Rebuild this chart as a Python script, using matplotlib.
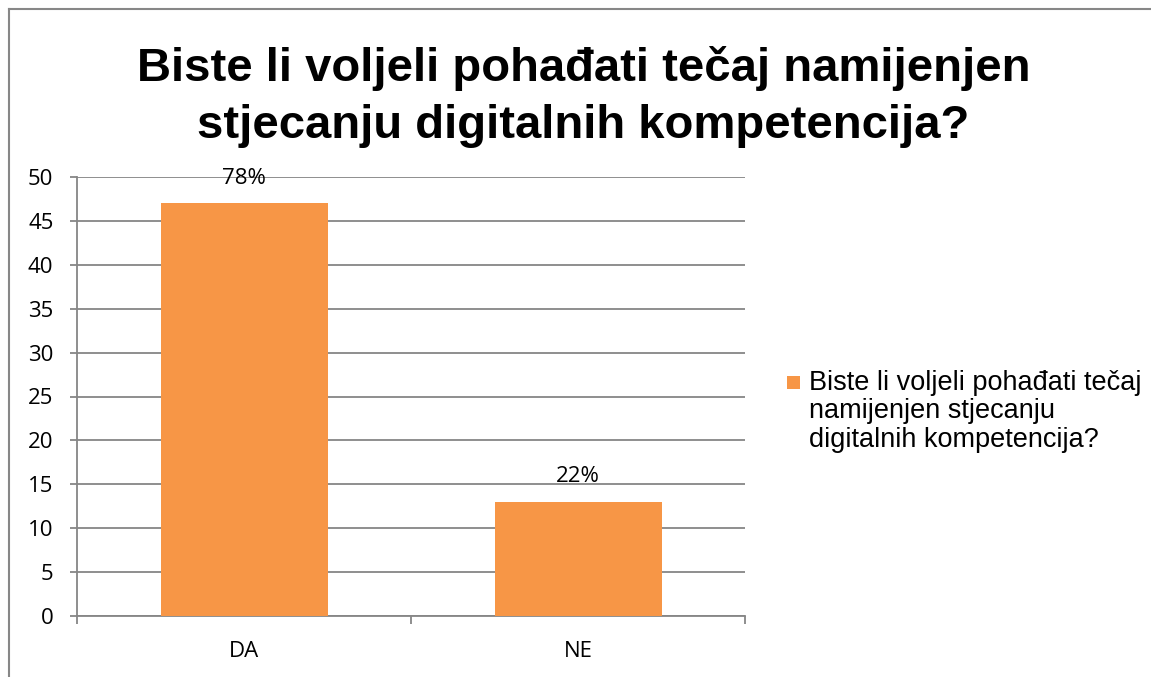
import matplotlib
matplotlib.use("Agg")
import matplotlib.pyplot as plt
from matplotlib.lines import Line2D
from matplotlib.patches import Rectangle

categories = ["DA", "NE"]
counts = [47, 13]
percent_labels = ["78%", "22%"]
series_name = "Biste li voljeli pohađati tečaj\nnamijenjen stjecanju\ndigitalnih kompetencija?"
title = "Biste li voljeli pohađati tečaj namijenjen\nstjecanju digitalnih kompetencija?"
yticks = [0, 5, 10, 15, 20, 25, 30, 35, 40, 45, 50]

bar_color = "#F79646"
grey = "#868686"

fig = plt.figure(figsize=(11.51, 6.77), dpi=100)
ax = fig.add_axes([77 / 1151, 61 / 677, 668 / 1151, 439 / 677])

x = list(range(len(categories)))
bars = ax.bar(x, counts, width=0.5, color=bar_color, zorder=3, label=series_name)

for b, lab in zip(bars, percent_labels):
    ax.annotate(lab, (b.get_x() + b.get_width() / 2, b.get_height()),
                xytext=(0, 18), textcoords="offset points",
                ha="center", va="center", fontsize=16, family="Open Sans")

ax.set_xlim(-0.5, 1.5)
ax.set_ylim(0, 50)
ax.set_yticks(yticks)
ax.set_xticks(x)
ax.set_xticklabels(categories, fontsize=16, family="Open Sans")
ax.set_xticks([-0.5, 0.5, 1.5], minor=True)
ax.tick_params(axis="x", which="major", length=0, pad=18)
ax.tick_params(axis="x", which="minor", length=6, color=grey, width=1.3)
ax.tick_params(axis="y", length=5, color=grey, width=1.3, pad=12)
for t in ax.get_yticklabels():
    t.set_fontsize(16)
    t.set_family("Open Sans")

ax.yaxis.grid(True, color=grey, linewidth=1.3, zorder=0)
for s in ["top", "right"]:
    ax.spines[s].set_visible(False)
for s in ["left", "bottom"]:
    ax.spines[s].set_color(grey)
    ax.spines[s].set_linewidth(1.3)

fig.text(0.507, 0.857, title, ha="center", va="center", fontsize=34,
         fontweight="bold", family="Liberation Sans", linespacing=1.38)

# legend: orange square aligned with the first line of the series name
fig.patches.append(Rectangle((787 / 1151, 1 - 389 / 677), 13 / 1151, 13 / 677,
                             transform=fig.transFigure, facecolor=bar_color, edgecolor="none"))
fig.text(809 / 1151, 1 - 370 / 677, series_name, ha="left", va="top", fontsize=19.5,
         family="Liberation Sans", linespacing=1.12)

# outer chart border
fig.add_artist(Line2D([9 / 1151, 1], [1 - 9 / 677, 1 - 9 / 677], transform=fig.transFigure,
                      color="#878787", linewidth=1.5))
fig.add_artist(Line2D([9 / 1151, 9 / 1151], [0, 1 - 9 / 677], transform=fig.transFigure,
                      color="#878787", linewidth=1.5))

fig.savefig("out.png", dpi=100)
